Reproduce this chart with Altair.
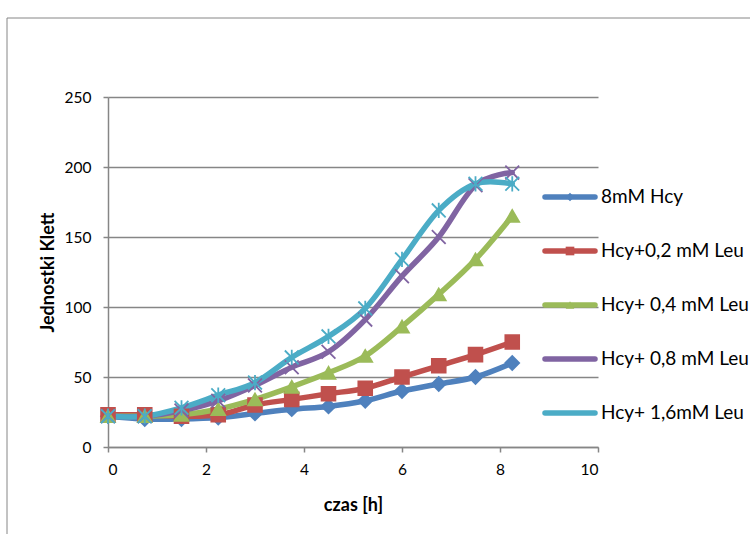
import altair as alt
import pandas as pd

# ---- data ----
time_h = [0, 0.75, 1.5, 2.25, 3, 3.75, 4.5, 5.25, 6, 6.75, 7.5, 8.25]
series_names = ["8mM Hcy", "Hcy+0,2 mM Leu", "Hcy+ 0,4 mM Leu", "Hcy+ 0,8 mM Leu", "Hcy+ 1,6mM Leu"]
s_8mM = [22, 20, 20, 21, 24, 27, 29, 33, 40, 45, 50, 60]
s_02 = [23, 23, 22, 23, 30, 34, 38, 42, 50, 58, 66, 75]
s_04 = [22, 22, 23, 27, 34, 43, 53, 65, 86, 109, 134, 165]
s_08 = [22, 22, 26, 33, 44, 57, 68, 91, 122, 150, 187, 196]
s_16 = [22, 22, 28, 37, 46, 64, 79, 99, 134, 169, 188, 188]
series_values = [s_8mM, s_02, s_04, s_08, s_16]
colors = ["#4F81BD", "#C0504D", "#9BBB59", "#8064A2", "#4BACC6"]
x_ticks = [0, 2, 4, 6, 8, 10]
y_ticks = [0, 50, 100, 150, 200, 250]

rows = []
for name, vals in zip(series_names, series_values):
    for t, v in zip(time_h, vals):
        rows.append({"czas": t, "value": v, "series": name})
df = pd.DataFrame(rows)
legend_df = pd.DataFrame({"series": series_names})

FONT = "Lato"
GREY = "#868686"

marker_shapes = [
    "diamond",
    "square",
    "triangle-up",
    "M-1,-1L1,1M-1,1L1,-1",
    "M-1,-1L1,1M-1,1L1,-1M0,-1.1L0,1.1",
]

xscale = alt.Scale(domain=[0, 10], nice=False, zero=False)
yscale = alt.Scale(domain=[0, 250], nice=False)

x_enc = alt.X(
    "czas:Q", scale=xscale,
    axis=alt.Axis(values=x_ticks, title="czas [h]", grid=False, tickSize=5,
                  labelPadding=10, titlePadding=19),
)
y_enc = alt.Y(
    "value:Q", scale=yscale,
    axis=alt.Axis(values=y_ticks, title="Jednostki Klett", grid=True, tickSize=5,
                  labelPadding=12, titlePadding=7),
)

base = alt.Chart(df)

lines = base.mark_line(
    strokeWidth=5.5, interpolate="cardinal", strokeCap="round", strokeJoin="round"
).encode(
    x=x_enc, y=y_enc,
    color=alt.Color("series:N", scale=alt.Scale(domain=series_names, range=colors), legend=None),
    detail="series:N",
)

# markers: one layer per series
marker_layers = []
for name, col, shp in zip(series_names, colors, marker_shapes):
    marker_layers.append(
        base.transform_filter(alt.datum.series == name).mark_point(
            shape=shp, filled=True, fill=col, stroke=col, size=190, strokeWidth=1.8, opacity=1
        ).encode(x="czas:Q", y="value:Q")
    )

main = alt.layer(lines, *marker_layers)

# ---- legend built as marks ----
leg_y = alt.Y("series:N", scale=alt.Scale(type="point", domain=series_names, range=[100, 316], padding=0), axis=None)
leg_color = alt.Color("series:N", scale=alt.Scale(domain=series_names, range=colors), legend=None)
leg_base = alt.Chart(legend_df)
leg_lines = leg_base.mark_rule(strokeWidth=5.5, strokeCap="round").encode(
    x=alt.value(437), x2=alt.value(487), y=leg_y, color=leg_color
)
leg_marks = leg_base.mark_point(filled=True, size=75, strokeWidth=1.2, opacity=1).encode(
    x=alt.value(462), y=leg_y, color=leg_color,
    shape=alt.Shape("series:N", scale=alt.Scale(domain=series_names, range=marker_shapes), legend=None),
)
leg_text = leg_base.mark_text(align="left", baseline="middle", font=FONT, fontSize=19, color="#000000").encode(
    x=alt.value(493), y=leg_y, text="series:N"
)
legend_chart = alt.layer(leg_lines, leg_marks, leg_text)

frame = alt.Chart(alt.Data(values=[{"a": 1}])).mark_rect(
    filled=False, stroke=GREY, strokeWidth=1
).encode(
    x=alt.value(-101), x2=alt.value(700), y=alt.value(-79), y2=alt.value(520)
)

chart = alt.layer(frame, main, legend_chart).resolve_scale(
    x="independent", y="independent", color="independent", shape="independent"
).properties(
    width=490, height=350,
    padding={"left": 108, "top": 97, "right": 152, "bottom": 87},
    autosize=alt.AutoSizeParams(type="none"),
    background="white",
).configure_view(stroke=None).configure_axis(
    domainColor=GREY, domainWidth=1.5, tickColor=GREY, tickWidth=1.5,
    gridColor=GREY, gridWidth=1.5,
    labelFont=FONT, labelFontSize=15.5, labelColor="#000000",
    titleFont=FONT, titleFontSize=18, titleFontWeight="bold", titleColor="#000000",
)

chart.save("out.html", embed_options={"renderer": "svg", "actions": False})
